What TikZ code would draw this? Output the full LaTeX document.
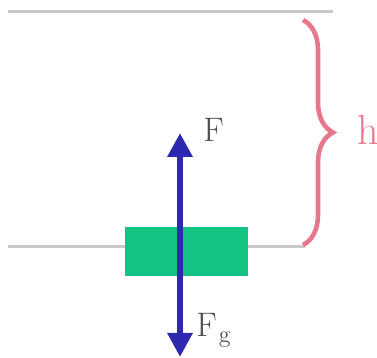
\documentclass[tikz,border=0pt]{standalone}
\usetikzlibrary{arrows.meta,decorations.pathreplacing}
\definecolor{lineg}{RGB}{200,200,200}
\definecolor{boxg}{RGB}{20,195,130}
\definecolor{arrb}{RGB}{45,40,175}
\definecolor{brc}{RGB}{230,120,140}
\definecolor{txt}{RGB}{80,80,80}
\begin{document}
\begin{tikzpicture}[x=0.5pt,y=-0.5pt,
  level/.style={draw=lineg,line width=1.5pt},
  block/.style={fill=boxg,draw=none,minimum width=61.5pt,minimum height=24.5pt,inner sep=0pt},
  force/.style={draw=arrb,line width=3pt,-{Triangle[length=12pt,width=12pt]}},
  lbl/.style={text=txt,font=\fontsize{17}{20}\selectfont,inner sep=0pt},
  hbrace/.style={draw=brc,line width=2.3pt,decorate,decoration={brace,amplitude=15pt}}]
\useasboundingbox (0,0) rectangle (377,358);
\coordinate (tl) at (8,12);
\coordinate (tr) at (333,12);
\coordinate (bl) at (8,247);
\coordinate (br) at (305,247);
\draw[level] (tl) -- (tr);
\draw[level] (bl) -- (br);
\node[block] (box) at (186.5,252) {};
\coordinate (fmid) at (180,252);
\coordinate (ftop) at (180,133);
\coordinate (fbot) at (180,357);
\draw[force] (fmid) -- (ftop);
\draw[force] (fmid) -- (fbot);
\node[lbl,anchor=west] (lf) at (203,130) {F};
\node[lbl,anchor=west] (lfg) at (196,330) {F\kern1pt\raisebox{-3pt}{\fontsize{12}{14}\selectfont g}};
\coordinate (bt) at (303,20);
\coordinate (bb) at (303,245);
\draw[hbrace] (bt) -- (bb);
\node[text=brc,font=\fontsize{21}{24}\selectfont,anchor=west,inner sep=0pt] (h) at (357,130) {h};
\end{tikzpicture}
\end{document}
